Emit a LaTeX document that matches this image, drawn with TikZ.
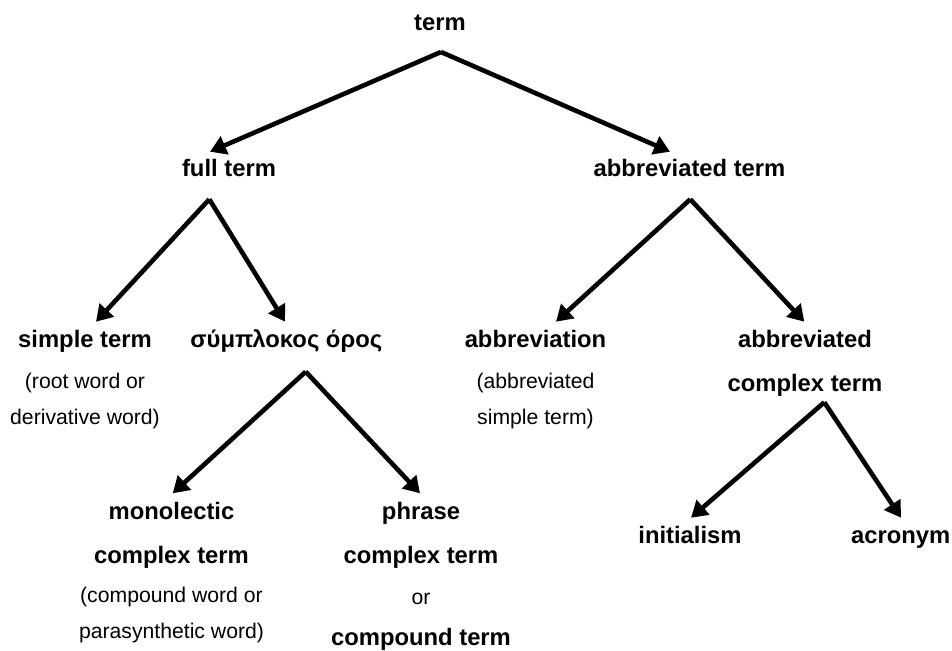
\documentclass[tikz,border=0pt]{standalone}
\usepackage{fontspec}
\setmainfont{Liberation Sans}
\usetikzlibrary{arrows.meta}

\begin{document}
\begin{tikzpicture}[x=0.5pt, y=0.5pt,
    note/.style={anchor=base, inner sep=0pt, align=center, font=\fontsize{10.6}{18}\selectfont},
    head/.style={note, font=\fontsize{11.9}{18}\selectfont\bfseries},
    branch/.style={line width=2.3pt, -{Triangle[length=8pt,width=9.5pt]}}]
    % Define bold heading text
    \newcommand{\bhead}[1]{{\fontsize{11.9}{18}\selectfont\bfseries #1}}

    % Fix picture size
    \useasboundingbox (0,0) rectangle (952,650);

    % Draw top level
    \node[head] (term) at (440,620) {term};

    % Draw second level
    \node[head] (full) at (229,473.3) {full term};
    \node[head] (abbr) at (689.5,473.3) {abbreviated term};

    % Draw third level (base = last line)
    \node[note] (simple) at (85,226) {\bhead{simple term}\\[2.3pt] (root word or\\ derivative word)};
    \node[head] (complex) at (286.3,302.3) {σύμπλοκος όρος};
    \node[note] (abbrev) at (535.5,226) {\bhead{abbreviation}\\[2.3pt] (abbreviated\\ simple term)};
    \node[note] (abcomplex) at (805,258.3) {\bhead{abbreviated}\\[4pt] \bhead{complex term}};

    % Draw fourth level
    \node[note] (mono) at (171.5,12) {\bhead{monolectic}\\[3.9pt] \bhead{complex term}\\[1.4pt] (compound word or\\ parasynthetic word)};
    \node[note] (phrase) at (421,5) {\bhead{phrase}\\[4pt] \bhead{complex term}\\[2.5pt] or\\[2.5pt] \bhead{compound term}};
    \node[head] (init) at (690,106.7) {initialism};
    \node[head] (acro) at (900.7,106.7) {acronym};

    % Draw branches
    \draw[branch] ([shift={(1,-22)}]term.base) -- ([shift={(-19,25)}]full.base);
    \draw[branch] ([shift={(1,-22)}]term.base) -- ([shift={(-19.5,25)}]abbr.base);
    \draw[branch] ([shift={(-19.7,-22.6)}]full.base) -- ([shift={(11,102.3)}]simple.base);
    \draw[branch] ([shift={(-19.7,-22.6)}]full.base) -- ([shift={(-1.3,26)}]complex.base);
    \draw[branch] ([shift={(0.8,-22.6)}]abbr.base) -- ([shift={(20.5,102.3)}]abbrev.base);
    \draw[branch] ([shift={(0.8,-22.6)}]abbr.base) -- ([shift={(-0.7,70)}]abcomplex.base);
    \draw[branch] ([shift={(19.4,-24)}]complex.base) -- ([shift={(1.2,144.7)}]mono.base);
    \draw[branch] ([shift={(19.4,-24)}]complex.base) -- ([shift={(-1,151.7)}]phrase.base);
    \draw[branch] ([shift={(19.3,-10.6)}]abcomplex.base) -- ([shift={(1,25.6)}]init.base);
    \draw[branch] ([shift={(19.3,-10.6)}]abcomplex.base) -- ([shift={(0.3,25.6)}]acro.base);
\end{tikzpicture}
\end{document}
